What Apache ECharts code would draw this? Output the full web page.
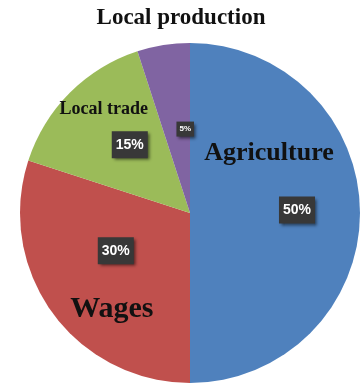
<!DOCTYPE html>
<html>
<head>
<meta charset="utf-8">
<script src="https://cdn.jsdelivr.net/npm/echarts@6/dist/echarts.min.js"></script>
<style>
    html, body { margin: 0; padding: 0; background: #fff; }
    #chart { width: 362px; height: 385px; }
</style>
</head>
<body>
<div id="chart"></div>
<script>
// data
const titleText = 'Local production';
const sectors = ['Agriculture', 'Wages', 'Local trade', 'Other'];
const shares = [50, 30, 15, 5];
const nameShown = [true, true, true, false];

// styles
const sectorColors = ['#4f81bd', '#c0504d', '#9bbb59', '#8064a2'];
const nameSize = [26, 30, 18, 12];
// label nudges (px) away from the default inside spot
const pctShift = [[19, -3], [-3, -14], [2, -6], [9, 3]];
const nameShift = [[-9, -60], [-7, 45], [-24, -41], [0, 0]];

const serif = '"Liberation Serif", "DejaVu Serif", serif';
const sans = '"Liberation Sans", "DejaVu Sans", sans-serif';

const chart = echarts.init(document.getElementById('chart'));

// move label center by a fixed amount
function nudge(shifts) {
    return params => {
        const r = params.labelRect;
        const s = shifts[params.dataIndex];
        return {
            x: r.x + r.width / 2 + s[0],
            y: r.y + r.height / 2 + s[1],
            align: 'center',
            verticalAlign: 'middle'
        };
    };
}

const pieBase = {
    type: 'pie',
    radius: 170,
    center: [190, 213],
    startAngle: 90,
    clockwise: true,
    avoidLabelOverlap: false,
    labelLine: { show: false },
    emphasis: { disabled: true }
};

const option = {
    animation: false,
    title: {
        text: titleText,
        left: 'center',
        top: 2,
        textStyle: { fontFamily: serif, fontWeight: 'bold', fontSize: 23, color: '#111' }
    },
    series: [
        {
            ...pieBase,
            data: sectors.map((n, i) => ({
                name: n,
                value: shares[i],
                itemStyle: { color: sectorColors[i] },
                label: i === 3 ? { fontSize: 8, padding: [4, 3, 3, 3] } : {}
            })),
            label: {
                show: true,
                position: 'inside',
                formatter: '{c}%',
                color: '#fff',
                fontFamily: sans,
                fontWeight: 'bold',
                fontSize: 14,
                backgroundColor: '#383838',
                padding: [7, 4, 6, 4],
                shadowBlur: 3,
                shadowColor: 'rgba(0,0,0,0.55)',
                shadowOffsetX: 2,
                shadowOffsetY: 2
            },
            labelLayout: nudge(pctShift)
        },
        {
            ...pieBase,
            silent: true,
            data: sectors.map((n, i) => ({
                name: n,
                value: shares[i],
                itemStyle: { color: 'rgba(0,0,0,0)' },
                label: { show: nameShown[i], fontSize: nameSize[i] }
            })),
            label: {
                show: true,
                position: 'inside',
                formatter: '{b}',
                color: '#111',
                fontFamily: serif,
                fontWeight: 'bold'
            },
            labelLayout: nudge(nameShift)
        }
    ]
};

chart.setOption(option);
</script>
</body>
</html>
